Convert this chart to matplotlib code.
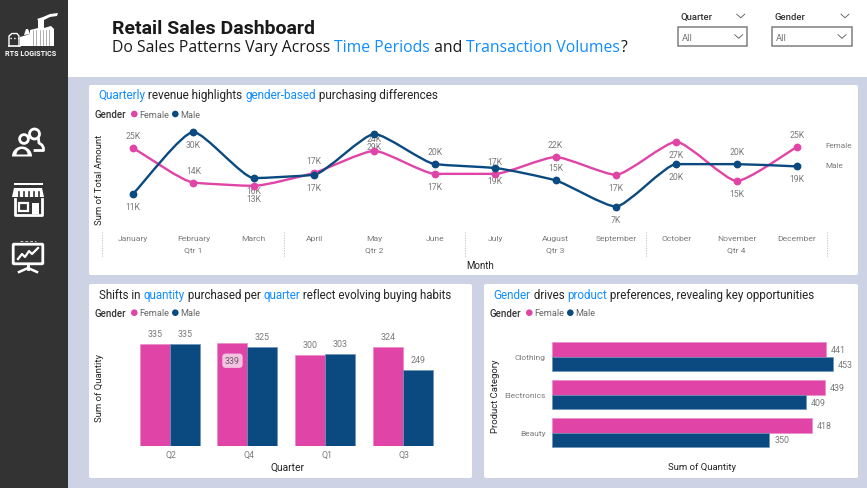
import matplotlib
matplotlib.use("Agg")
import matplotlib.pyplot as plt
from matplotlib.patches import Rectangle, FancyBboxPatch, Circle, Wedge, Polygon
from matplotlib.path import Path
from matplotlib.patches import PathPatch

# Data
months = ["January", "February", "March", "April", "May", "June", "July",
          "August", "September", "October", "November", "December"]
quarter_names = ["Qtr 1", "Qtr 2", "Qtr 3", "Qtr 4"]
female_amount = [25.1, 14.4, 13.4, 17.4, 24.2, 17.1, 17.1, 22.3, 16.8, 27.0, 14.9, 25.4]
male_amount = [10.9, 30.0, 15.8, 16.8, 29.4, 20.1, 18.9, 15.1, 7.0, 20.1, 20.1, 19.4]
female_side = [1, 1, -1, 1, 1, -1, 1, 1, -1, -1, -1, 1]
male_side = [-1, -1, -1, -1, -1, 1, -1, 1, -1, -1, 1, -1]

quarters = ["Q2", "Q4", "Q1", "Q3"]
female_qty = [335, 339, 300, 324]
male_qty = [335, 325, 303, 249]

categories = ["Clothing", "Electronics", "Beauty"]
female_cat = [441, 439, 418]
male_cat = [453, 409, 350]

W, H = 867, 489
PINK = "#E044A7"
NAVY = "#0A4A80"
BLUE = "#118DFF"
DARK = "#252423"
GREY = "#7A7A7A"
PAGE = "#CDD2E5"
SIDE = "#333333"
HEAD = "Roboto"
BODY = "Open Sans"

fig = plt.figure(figsize=(W / 100, H / 100), dpi=100, facecolor=PAGE)
bg = fig.add_axes([0, 0, 1, 1])
bg.set_xlim(0, W)
bg.set_ylim(H, 0)
bg.axis("off")


def px_axes(left, top, right, bottom):
    ax = fig.add_axes([left / W, 1 - bottom / H, (right - left) / W, (bottom - top) / H])
    ax.patch.set_alpha(0)
    for s in ax.spines.values():
        s.set_visible(False)
    return ax


def label(x, y, s, size=6.3, color=GREY, ha="center", family=HEAD, weight="normal", rotation=0):
    return bg.text(x, y, s, fontsize=size, color=color, ha=ha, va="center", family=family,
                   weight=weight, rotation=rotation, zorder=8)


def rich(x, y, parts, size, family=HEAD):
    # text in several colours, one piece after the other
    rend = fig.canvas.get_renderer()
    for s, c in parts:
        t = bg.text(x, y, s, fontsize=size, color=c, ha="left", va="center", family=family, zorder=8)
        t.set_text(s.replace(" ", "\u00a0"))
        x += t.get_window_extent(rend).width


def card(l, t, r, b):
    bg.add_patch(FancyBboxPatch((l + 2, t + 2), r - l - 4, b - t - 4, boxstyle="round,pad=2",
                                fc="white", ec="none", zorder=1))


def legend(x, y):
    label(x, y, "Gender", size=7, color="#333333", ha="left", weight="medium")
    for dx, c, s in [(39.6, PINK, "Female"), (80.6, NAVY, "Male")]:
        bg.add_patch(Circle((x + dx, y), 3.3, fc=c, ec="none", zorder=8))
        label(x + dx + 5, y, s, size=6.6, color="#666666", ha="left")


def chevron(x, y, w=4, h=3.6, c="#555555"):
    bg.plot([x - w, x, x + w], [y - h / 2, y + h / 2, y - h / 2], color=c, lw=0.6, zorder=8)


def smooth_path(xs, ys, tension=0.55):
    # short handles round the corners only, the runs between months stay nearly straight
    n = len(xs)
    d = [(ys[i + 1] - ys[i]) / (xs[i + 1] - xs[i]) for i in range(n - 1)]
    m = [d[0]] + [0 if d[i - 1] * d[i] <= 0 else 2 * d[i - 1] * d[i] / (d[i - 1] + d[i])
                  for i in range(1, n - 1)] + [d[-1]]
    verts = [(xs[0], ys[0])]
    codes = [Path.MOVETO]
    for i in range(n - 1):
        h = (xs[i + 1] - xs[i]) / 3 * tension
        verts += [(xs[i] + h, ys[i] + m[i] * h), (xs[i + 1] - h, ys[i + 1] - m[i + 1] * h),
                  (xs[i + 1], ys[i + 1])]
        codes += [Path.CURVE4] * 3
    return Path(verts, codes)


# page furniture
bg.add_patch(Rectangle((0, 0), W, 78, fc="white", ec="none", zorder=0))
bg.add_patch(Rectangle((0, 0), W, 1.2, fc="#333333", ec="none", zorder=0.5))
bg.add_patch(Rectangle((0, 0), 67.7, H, fc=SIDE, ec="none", zorder=0.6))
card(89, 86, 858, 276)
card(89, 285, 472, 479)
card(484, 285, 858, 479)

# logo
for xy in [[(30, 31), (38, 29), (38, 21), (44, 21), (44, 29), (51, 27), (54, 30), (54, 47), (30, 47)],
           [(20, 38), (30, 35), (30, 47), (20, 47)],
           [(24, 36), (26, 30), (28, 30), (30, 35)],
           [(37, 20), (43, 18), (50, 15), (58, 14), (57, 17), (50, 18), (44, 21), (38, 21)]]:
    bg.add_patch(Polygon(xy, fc="white", ec="none", zorder=3))
for x in [33, 36, 40, 43, 46, 49]:
    bg.plot([x, x], [31, 46], color=SIDE, lw=0.4, alpha=0.7, zorder=4)
bg.plot([9, 9, 12, 17, 19, 19], [47, 37, 34.5, 34.5, 37, 47], color="white", lw=1, zorder=3)
bg.plot([9, 20], [47, 47], color="white", lw=1.2, zorder=3)
bg.plot([10, 19], [39, 39], color="white", lw=1, ls=":", zorder=3)
label(31, 54, "RTS LOGISTICS", size=5.2, color="white", weight="bold", family="Roboto")

# people icon
bg.add_patch(Circle((34.5, 135), 5, fc="none", ec="white", lw=2, zorder=3))
bg.plot([38.5, 39, 42, 43.5, 43.5, 35], [140, 144, 146, 149, 151.5, 151.5], color="white", lw=2, zorder=3)
bg.add_patch(Circle((24, 140), 4.4, fc=SIDE, ec="white", lw=2, zorder=3.2))
bg.add_patch(Wedge((22, 157.5), 10, 180, 360, fc="white", ec="none", zorder=3))
bg.add_patch(Wedge((22, 155.5), 5.5, 180, 360, fc=SIDE, ec="none", zorder=3.1))

# store icon
bg.add_patch(Rectangle((14, 184), 28.5, 2.2, fc="white", ec="none", zorder=3))
bg.add_patch(Polygon([(14, 189), (42, 189), (44, 198), (12, 198)], fc="white", ec="none", zorder=3))
for x in [19, 24, 29, 34, 39]:
    bg.plot([x, x], [193, 199], color=SIDE, lw=1.2, zorder=4)
bg.plot([15, 15, 41.5, 41.5], [200, 215.5, 215.5, 200], color="white", lw=2, zorder=3)
bg.add_patch(Rectangle((18.5, 204), 9, 8, fc="none", ec="white", lw=1.6, zorder=3))
bg.add_patch(Rectangle((32, 204), 7, 11, fc="white", ec="none", zorder=3))

# presentation icon
bg.add_patch(FancyBboxPatch((14, 246), 28, 18, boxstyle="round,pad=0.8", fc="none", ec="white", lw=2, zorder=3))
bg.plot([18, 22, 25, 29, 32, 38], [260, 255, 258, 252, 255, 249], color="white", lw=1.6, zorder=3)
bg.plot([28, 28], [265, 270], color="white", lw=2, zorder=3)
bg.plot([19, 28, 37], [273, 269, 273], color="white", lw=1.8, zorder=3)
bg.plot([20, 36], [242, 242], color="white", lw=0.5, ls=(0, (4, 3)), zorder=3)

# header
label(112, 28.5, "Retail Sales Dashboard", size=14, color="#1A1A1A", ha="left", weight="bold")
rich(112, 47.5, [("Do Sales Patterns Vary Across ", "#1A1A1A"), ("Time Periods", BLUE), (" and ", "#1A1A1A"),
                 ("Transaction Volumes", BLUE), ("?", "#1A1A1A")], 11.3, family=BODY)

# slicers
for x0, x1, name, up_x, in_x in [(677.7, 747, "Quarter", 740.7, 738.7), (771.7, 851.7, "Gender", 845, 842)]:
    label(x0 + 2.5, 17.5, name, size=6.8, color="#333333", ha="left", weight="medium")
    chevron(up_x, 17)
    bg.add_patch(Rectangle((x0, 28), x1 - x0, 18.7, fc="white", ec="#7F7F7F", lw=1.1, zorder=3))
    label(x0 + 4, 38.7, "All", size=6.8, color="#777777", ha="left")
    chevron(in_x, 37.5)

# monthly line chart
rich(98, 96, [("Quarterly", BLUE), (" revenue highlights ", DARK), ("gender-based", BLUE),
              (" purchasing differences", DARK)], 8.45)
legend(94.7, 115)
label(100, 180, "Sum of Total Amount", size=6.8, color=DARK, rotation=90)
ax1 = px_axes(102.8, 120.1, 827.2, 228)
ax1.set_xlim(-0.5, 11.5)
ax1.set_ylim(0.7, 34)
ax1.set_xticks([])
ax1.set_yticks([])
xs = list(range(len(months)))
for vals, sides, c in [(female_amount, female_side, PINK), (male_amount, male_side, NAVY)]:
    ax1.add_patch(PathPatch(smooth_path(xs, vals), fc="none", ec=c, lw=1.7, zorder=3))
    ax1.plot(xs, vals, ls="none", marker="o", ms=4.6, color=c, zorder=4)
    for x, v, side in zip(xs, vals, sides):
        ax1.annotate(f"{round(v)}K", (x, v), xytext=(0, 12.5 * side), textcoords="offset pixels",
                     ha="center", va="center", fontsize=6.2, color=GREY, family=HEAD, annotation_clip=False)
for i, m in enumerate(months):
    label(133 + i * 60.36, 239, m, size=6.1)
for i, q in enumerate(quarter_names):
    label(193.4 + i * 181.08, 250, q, size=6.1)
for x in [102.3, 283.7, 464.7, 646, 827.3]:
    bg.plot([x, x], [233, 258], color="#B8B8B8", lw=0.7, ls=":", zorder=3)
label(480, 266, "Month", size=7, color=DARK)
label(825, 146, "Female", size=5.9, ha="left")
label(825, 166, "Male", size=5.9, ha="left")

# quarter columns
rich(99, 295.5, [("Shifts in ", DARK), ("quantity", BLUE), (" purchased per ", DARK), ("quarter", BLUE),
                 (" reflect evolving buying habits", DARK)], 8.3)
legend(94.7, 313.7)
label(100, 388, "Sum of Quantity", size=6.8, color=DARK, rotation=90)
ax2 = px_axes(130.8, 325.1, 441.9, 447.3)
ax2.set_xlim(-0.5, 3.5)
ax2.set_ylim(0, 400)
ax2.set_xticks([])
ax2.set_yticks([])
bw = 0.3856
pos = list(range(len(quarters)))
ax2.bar([p - bw / 2 for p in pos], female_qty, bw, color=PINK, edgecolor="#E88CC8", lw=0.5)
ax2.bar([p + bw / 2 for p in pos], male_qty, bw, color=NAVY, edgecolor="#6F93B5", lw=0.5)
for p, f, m in zip(pos, female_qty, male_qty):
    if f == max(female_qty):
        ax2.annotate(str(f), (p - bw / 2, f), xytext=(0, -18), textcoords="offset pixels", ha="center", va="center",
                     fontsize=6.4, color="#6B5A66", family=HEAD,
                     bbox=dict(boxstyle="round,pad=0.3,rounding_size=0.4", fc="#F3C3E2", ec="none"))
    else:
        ax2.annotate(str(f), (p - bw / 2, f), xytext=(0, 10.5), textcoords="offset pixels", ha="center", va="center",
                     fontsize=6.4, color=GREY, family=HEAD, annotation_clip=False)
    ax2.annotate(str(m), (p + bw / 2, m), xytext=(0, 10.5), textcoords="offset pixels", ha="center", va="center",
                 fontsize=6.4, color=GREY, family=HEAD, annotation_clip=False)
    label(171 + p * 77.8, 455.5, quarters[p], size=6.3)
label(287.7, 467.7, "Quarter", size=7.4, color=DARK)

# category bars
rich(493.7, 295.5, [("Gender", BLUE), (" drives ", DARK), ("product", BLUE),
                    (" preferences, revealing key opportunities", DARK)], 8.35)
legend(489.7, 313.7)
label(495, 396.7, "Product Category", size=6.8, color=DARK, rotation=90)
ax3 = px_axes(552, 339, 850, 452.6)
ax3.set_xlim(0, 480)
ax3.set_ylim(2.5, -0.5)
ax3.set_xticks([])
ax3.set_yticks([])
bh = 0.382
ypos = list(range(len(categories)))
ax3.barh([y - bh / 2 for y in ypos], female_cat, bh, color=PINK, edgecolor="#E88CC8", lw=0.5)
ax3.barh([y + bh / 2 for y in ypos], male_cat, bh, color=NAVY, edgecolor="#6F93B5", lw=0.5)
for y, f, m in zip(ypos, female_cat, male_cat):
    ax3.annotate(str(f), (f, y - bh / 2), xytext=(5, 0), textcoords="offset pixels", ha="left", va="center",
                 fontsize=6.4, color=GREY, family=HEAD, annotation_clip=False)
    ax3.annotate(str(m), (m, y + bh / 2), xytext=(5, 0), textcoords="offset pixels", ha="left", va="center",
                 fontsize=6.4, color=GREY, family=HEAD, annotation_clip=False)
    label(545.7, 358 + y * 37.9, categories[y], size=6, ha="right")
label(702, 467.7, "Sum of Quantity", size=6.8, color=DARK)

fig.savefig("out.png", dpi=100, facecolor=PAGE)
